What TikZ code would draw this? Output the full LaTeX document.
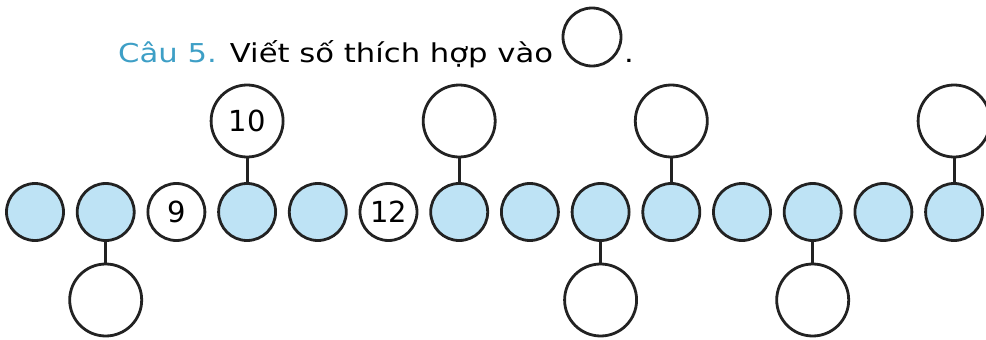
\documentclass[tikz,border=0pt]{standalone}
\usepackage{fontspec}
\setmainfont{DejaVu Sans}
\newfontfamily\qfont[FakeStretch=1.18]{DejaVu Sans}
\usetikzlibrary{positioning}
\definecolor{rowblue}{HTML}{BEE3F5}
\definecolor{qteal}{HTML}{3E9FC6}
\definecolor{ink}{HTML}{222222}

\begin{document}
\begin{tikzpicture}[
  x=1pt, y=-1pt,
  ring/.style={
    circle,
    draw=ink,
    line width=2.8pt,
    inner sep=0pt,
    font=\fontsize{29}{32}\selectfont
  },
  bluering/.style={ring, fill=rowblue, minimum size=57pt},
  numring/.style={ring, fill=white, minimum size=57pt},
  bigring/.style={ring, fill=white, minimum size=72pt},
  stem/.style={draw=ink, line width=2.8pt},
  title/.style={font=\qfont\fontsize{26}{30}\selectfont, inner sep=0pt}
]
  \useasboundingbox (0,0) rectangle (986,340);

  \node[title, anchor=base west] (q) at (118,62)
    {\textcolor{qteal}{Câu 5.} Viết số thích hợp vào};
  \node[ring, minimum size=58pt] (qring) at (592,37) {};
  \node[title, anchor=base west] (qdot) at (624,62) {.};

  % main row
  \node[bluering] (b1)  at (35,212) {};
  \node[bluering] (b2)  at (105.7,212) {};
  \node[numring]  (b3)  at (176.4,212) {9};
  \node[bluering] (b4)  at (247.1,212) {};
  \node[bluering] (b5)  at (317.8,212) {};
  \node[numring]  (b6)  at (388.5,212) {12};
  \node[bluering] (b7)  at (459.2,212) {};
  \node[bluering] (b8)  at (529.9,212) {};
  \node[bluering] (b9)  at (600.6,212) {};
  \node[bluering] (b10) at (671.3,212) {};
  \node[bluering] (b11) at (742,212) {};
  \node[bluering] (b12) at (812.7,212) {};
  \node[bluering] (b13) at (883.4,212) {};
  \node[bluering] (b14) at (954.1,212) {};

  % circles above
  \node[bigring] (t4)  at (247.1,121) {10};
  \node[bigring] (t7)  at (459.2,121) {};
  \node[bigring] (t10) at (671.3,121) {};
  \node[bigring] (t14) at (954.1,121) {};

  % circles below
  \node[bigring] (d2)  at (105.7,300) {};
  \node[bigring] (d9)  at (600.6,300) {};
  \node[bigring] (d12) at (812.7,300) {};

  \draw[stem] (t4) -- (b4);
  \draw[stem] (t7) -- (b7);
  \draw[stem] (t10) -- (b10);
  \draw[stem] (t14) -- (b14);
  \draw[stem] (b2) -- (d2);
  \draw[stem] (b9) -- (d9);
  \draw[stem] (b12) -- (d12);
\end{tikzpicture}
\end{document}
